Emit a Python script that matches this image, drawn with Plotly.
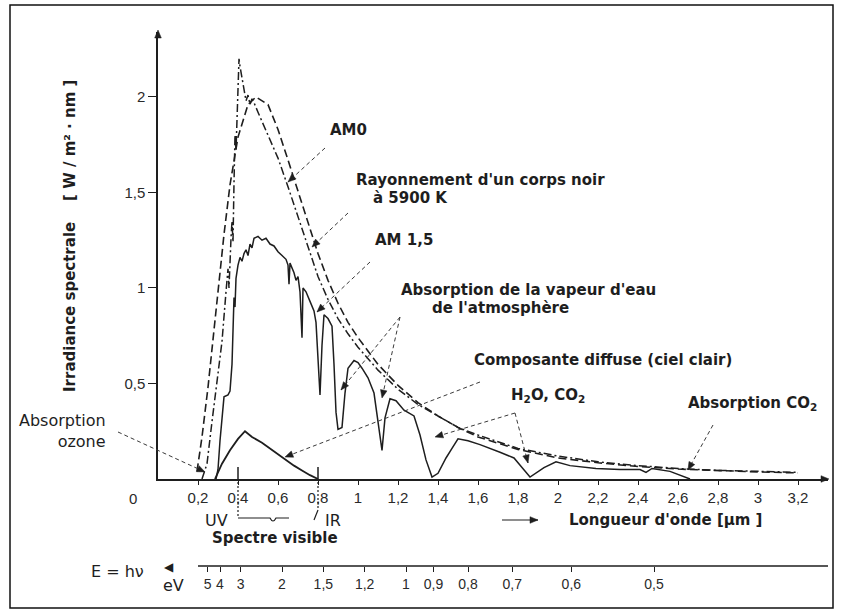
import math
import plotly.graph_objects as go

# ---------------- data ----------------
am0_wl = [0.22, 0.245, 0.27, 0.30, 0.32, 0.34, 0.35, 0.355, 0.36, 0.365, 0.37, 0.375, 0.38,
          0.385, 0.39, 0.395, 0.40, 0.405, 0.41, 0.42, 0.43, 0.44, 0.45, 0.46, 0.47, 0.48,
          0.50, 0.52, 0.55, 0.60, 0.65, 0.70, 0.75, 0.80, 0.85, 0.90, 0.95, 1.00, 1.10,
          1.20, 1.30, 1.40, 1.50, 1.60, 1.80, 2.00, 2.20, 2.40, 2.60, 2.80, 3.00, 3.20]
am0_irr = [0.0, 0.08, 0.30, 0.55, 0.72, 0.98, 1.10, 1.00, 1.18, 1.26, 1.35, 1.24, 1.55,
           1.80, 1.72, 1.92, 2.05, 2.20, 2.16, 2.10, 2.02, 1.98, 2.01, 1.96, 1.99, 1.97,
           1.92, 1.87, 1.80, 1.68, 1.53, 1.37, 1.21, 1.06, 0.94, 0.84, 0.76, 0.69, 0.57,
           0.47, 0.39, 0.33, 0.27, 0.23, 0.16, 0.12, 0.09, 0.07, 0.055, 0.045, 0.04, 0.035]

bb_wl = [0.195, 0.22, 0.25, 0.27, 0.30, 0.33, 0.36, 0.40, 0.45, 0.49, 0.55, 0.60, 0.65, 0.70,
         0.75, 0.80, 0.85, 0.90, 0.95, 1.00, 1.10, 1.20, 1.30, 1.40, 1.50, 1.60, 1.80, 2.00,
         2.20, 2.40, 2.60, 2.80, 3.00, 3.20]
bb_irr = [0.04, 0.22, 0.48, 0.68, 0.99, 1.28, 1.54, 1.79, 1.96, 2.00, 1.96, 1.83, 1.67, 1.51,
          1.34, 1.18, 1.04, 0.92, 0.82, 0.74, 0.60, 0.49, 0.40, 0.33, 0.27, 0.22, 0.155, 0.11,
          0.085, 0.065, 0.052, 0.043, 0.037, 0.032]

am15_wl = [0.29, 0.30, 0.31, 0.325, 0.33, 0.35, 0.36, 0.37, 0.38, 0.385, 0.39, 0.40, 0.41,
           0.42, 0.43, 0.44, 0.45, 0.46, 0.47, 0.48, 0.50, 0.52, 0.54, 0.56, 0.58, 0.60,
           0.62, 0.64, 0.65, 0.655, 0.66, 0.68, 0.69, 0.70, 0.71, 0.72, 0.725, 0.74, 0.76,
           0.78, 0.79, 0.80, 0.81, 0.82, 0.83, 0.85, 0.87, 0.88, 0.89, 0.90, 0.92, 0.935,
           0.95, 0.98, 1.00, 1.02, 1.05, 1.08, 1.10, 1.12, 1.135, 1.16, 1.19, 1.23, 1.28,
           1.31, 1.34, 1.37, 1.40, 1.44, 1.47, 1.50, 1.55, 1.61, 1.71, 1.78, 1.82, 1.86,
           1.93, 1.99, 2.06, 2.19, 2.31, 2.41, 2.44, 2.47, 2.56, 2.64, 2.66]
am15_irr = [0.0, 0.05, 0.20, 0.40, 0.43, 0.44, 0.46, 0.60, 0.95, 0.90, 1.05, 1.12, 1.16,
            1.14, 1.18, 1.20, 1.17, 1.23, 1.21, 1.26, 1.27, 1.25, 1.26, 1.23, 1.22, 1.19,
            1.17, 1.15, 1.12, 1.02, 1.13, 1.08, 1.04, 1.06, 0.98, 0.74, 1.00, 0.98, 0.93,
            0.88, 0.82, 0.60, 0.44, 0.70, 0.86, 0.84, 0.80, 0.60, 0.35, 0.26, 0.27, 0.45,
            0.58, 0.62, 0.61, 0.58, 0.53, 0.45, 0.30, 0.15, 0.32, 0.42, 0.41, 0.36, 0.33,
            0.23, 0.10, 0.01, 0.03, 0.11, 0.16, 0.21, 0.20, 0.18, 0.14, 0.11, 0.06, 0.01,
            0.06, 0.09, 0.07, 0.055, 0.05, 0.05, 0.035, 0.055, 0.04, 0.01, 0.0]

diff_wl = [0.285, 0.32, 0.36, 0.40, 0.435, 0.47, 0.52, 0.56, 0.60, 0.64, 0.68, 0.72, 0.76, 0.80]
diff_irr = [0.0, 0.08, 0.15, 0.21, 0.25, 0.22, 0.19, 0.16, 0.13, 0.10, 0.07, 0.045, 0.02, 0.0]

x_ticks = [0.2, 0.4, 0.6, 0.8, 1.0, 1.2, 1.4, 1.6, 1.8, 2.0, 2.2, 2.4, 2.6, 2.8, 3.0, 3.2]
x_ticklabels = ["0,2", "0,4", "0,6", "0,8", "1", "1,2", "1,4", "1,6", "1,8", "2",
                "2,2", "2,4", "2,6", "2,8", "3", "3,2"]
y_ticks = [0.5, 1.0, 1.5, 2.0]
y_ticklabels = ["0,5", "1", "1,5", "2"]
ev_values = [5, 4, 3, 2, 1.5, 1.2, 1, 0.9, 0.8, 0.7, 0.6, 0.5]
ev_labels = ["5", "4", "3", "2", "1,5", "1,2", "1", "0,9", "0,8", "0,7", "0,6", "0,5"]
HC = 1.24  # lambda [µm] = 1.24 / E [eV]

# ---------------- geometry ----------------
W, H = 841, 612
ML, MR, MT, MB = 158, 13, 32, 40
PW = W - ML - MR
PH = H - MT - MB
X_RANGE = [0, 3.35]
Y_RANGE = [0, 2.34]
AXIS_PY = 479
Y_DOM0 = (H - MB - AXIS_PY) / PH

INK = "#1e1e1e"
GRAY = "#3a3a3a"
TICK_INK = "#2a2a2a"
FONT_TXT = "DejaVu Sans, Verdana, sans-serif"
FONT_TICK = "Liberation Sans, Arial, sans-serif"


def px(x, y):
    """pixel position -> paper coordinates"""
    return (x - ML) / PW, (H - MB - y) / PH


shapes = []
annotations = []


def text(s, x, y, size=15, bold=True, xanchor="center", align="center", color=INK, angle=0,
         family=FONT_TXT):
    X, Y = px(x, y)
    annotations.append(dict(xref="paper", yref="paper", x=X, y=Y, text=f"<b>{s}</b>" if bold else s,
                            showarrow=False, xanchor=xanchor, yanchor="middle", align=align,
                            textangle=angle, font=dict(family=family, size=size, color=color)))


def head(tip, tail, length=8.0, half=3.3):
    dx, dy = tip[0] - tail[0], tip[1] - tail[1]
    n = math.hypot(dx, dy)
    ux, uy = dx / n, dy / n
    bx, by = tip[0] - ux * length, tip[1] - uy * length
    pts = [tip, (bx - uy * half, by + ux * half), (bx + uy * half, by - ux * half)]
    pp = [px(*p) for p in pts]
    path = "M {:.5f},{:.5f} L {:.5f},{:.5f} L {:.5f},{:.5f} Z".format(*pp[0], *pp[1], *pp[2])
    shapes.append(dict(type="path", xref="paper", yref="paper", path=path,
                       fillcolor=INK, line=dict(color=INK, width=0.5)))


def arrow(tail, tip, dash="4px,3px", color=GRAY, width=1.0):
    x0, y0 = px(*tail)
    x1, y1 = px(*tip)
    shapes.append(dict(type="line", xref="paper", yref="paper", x0=x0, y0=y0, x1=x1, y1=y1,
                       line=dict(color=color, width=width, dash=dash)))
    head(tip, tail)


fig = go.Figure()
fig.add_trace(go.Scatter(x=bb_wl, y=bb_irr, mode="lines", name="Corps noir 5900 K",
                         line=dict(color=INK, width=1.6, dash="8px,4px")))
fig.add_trace(go.Scatter(x=am0_wl, y=am0_irr, mode="lines", name="AM0",
                         line=dict(color=INK, width=1.5, dash="8px,3px,2px,3px")))
fig.add_trace(go.Scatter(x=am15_wl, y=am15_irr, mode="lines", name="AM 1,5",
                         line=dict(color=INK, width=1.5)))
fig.add_trace(go.Scatter(x=diff_wl, y=diff_irr, mode="lines", name="Composante diffuse",
                         line=dict(color=INK, width=1.8)))
# invisible trace on the energy axis so it is drawn
fig.add_trace(go.Scatter(x=[HC / e for e in ev_values], y=[0] * len(ev_values), xaxis="x2",
                         mode="markers", marker=dict(opacity=0), hoverinfo="skip"))

# axis arrow heads
head((ML, MT - 2), (ML, MT + 20))
head((ML + PW + 1, AXIS_PY), (ML + PW - 20, AXIS_PY))

# labels on curves
text("AM0", 348, 130)
arrow((325, 148), (288, 182))
text("Rayonnement d'un corps noir", 480, 180)
text("à 5900 K", 410, 198)
arrow((348, 213), (312, 247))
text("AM 1,5", 404, 240)
arrow((370, 262), (317, 312))
text("Absorption de la vapeur d'eau", 528, 290)
text("de l'atmosphère", 500, 308)
arrow((400, 317), (341, 390))
arrow((400, 317), (382, 398))
text("Composante diffuse (ciel clair)", 603, 360)
arrow((480, 382), (285, 457))
text("H<sub>2</sub>O, CO<sub>2</sub>", 548, 395)
arrow((515, 413), (435, 437))
arrow((515, 413), (528, 463))
text("Absorption CO<sub>2</sub>", 752, 403)
arrow((713, 425), (688, 470))
text("Absorption<br>ozone", 108, 431, size=16, bold=False, xanchor="right", align="right")
arrow((118, 432), (205, 472))

# axes texts
text("0", 133, 498, size=15, bold=False, family=FONT_TICK, color=TICK_INK)
text("Irradiance spectrale&nbsp;&nbsp;&nbsp;&nbsp;[ W / m² · nm ]", 70, 236, size=15, angle=-90)
text("UV", 216, 520, size=16, bold=False)
text("IR", 333, 520, size=16, bold=False)
text("Spectre visible", 275, 538)
text("Longueur d'onde [µm ]", 665, 520)
arrow((502, 520), (538, 520), dash="solid", color=INK, width=1.2)
text("E = hν", 117, 571, size=16, bold=False)
text("◀", 169, 567, size=12, bold=False)
text("eV", 173, 585, size=16, bold=False)

# visible-spectrum markers
y_axis_p = px(0, AXIS_PY)[1]
for lam, bottom in [(0.4, 517), (0.8, 510)]:
    shapes.append(dict(type="line", xref="x", yref="paper", x0=lam, x1=lam, y0=y_axis_p,
                       y1=px(0, AXIS_PY - 12)[1], line=dict(color=INK, width=1.5)))
    shapes.append(dict(type="line", xref="x", yref="paper", x0=lam, x1=lam, y0=px(0, 482)[1],
                       y1=px(0, bottom)[1], line=dict(color=INK, width=1.2, dash="2px,2px")))
ya = px(0, 518)[1]
yb = px(0, 524)[1]
shapes.append(dict(type="path", xref="x", yref="paper",
                   path=f"M 0.4,{ya:.5f} L 0.56,{ya:.5f} Q 0.575,{yb:.5f} 0.59,{ya:.5f} L 0.655,{ya:.5f}",
                   line=dict(color=INK, width=1.2)))
shapes.append(dict(type="line", xref="x", yref="paper", x0=0.78, x1=0.8, y0=px(0, 520)[1],
                   y1=px(0, 510)[1], line=dict(color=INK, width=1.2)))

# energy axis line
E_PY = 566
shapes.append(dict(type="line", xref="x", yref="paper", x0=0.2, x1=3.35, y0=px(0, E_PY)[1],
                   y1=px(0, E_PY)[1], line=dict(color=INK, width=1.3)))

# frame
fx0, fy0 = px(10, 608)
fx1, fy1 = px(833, 5)
shapes.append(dict(type="rect", xref="paper", yref="paper", x0=fx0, y0=fy0, x1=fx1, y1=fy1,
                   line=dict(color="#111111", width=1.5)))

fig.update_layout(
    width=W, height=H, autosize=False,
    margin=dict(l=ML, r=MR, t=MT, b=MB),
    paper_bgcolor="white", plot_bgcolor="white",
    showlegend=False,
    font=dict(family=FONT_TICK, size=14, color=INK),
    xaxis=dict(range=X_RANGE, tickvals=x_ticks, ticktext=x_ticklabels, showline=True,
               linecolor=INK, linewidth=1.5, ticks="outside", ticklen=4, tickcolor=INK,
               showgrid=False, zeroline=False, anchor="y",
               tickfont=dict(family=FONT_TICK, size=15, color=TICK_INK)),
    xaxis2=dict(range=X_RANGE, overlaying="x", anchor="free", position=px(0, E_PY)[1], side="bottom",
                tickvals=[HC / e for e in ev_values], ticktext=ev_labels, showline=False,
                ticks="outside", ticklen=5, tickcolor=INK, showgrid=False, zeroline=False,
                tickfont=dict(family=FONT_TICK, size=14, color=TICK_INK)),
    yaxis=dict(range=Y_RANGE, domain=[Y_DOM0, 1], tickvals=y_ticks, ticktext=y_ticklabels,
               showline=True, linecolor=INK, linewidth=1.5, ticks="outside", ticklen=8,
               tickcolor=INK, showgrid=False, zeroline=False,
               tickfont=dict(family=FONT_TICK, size=15, color=TICK_INK)),
    shapes=shapes,
    annotations=annotations,
)

fig.write_html("out.html")
